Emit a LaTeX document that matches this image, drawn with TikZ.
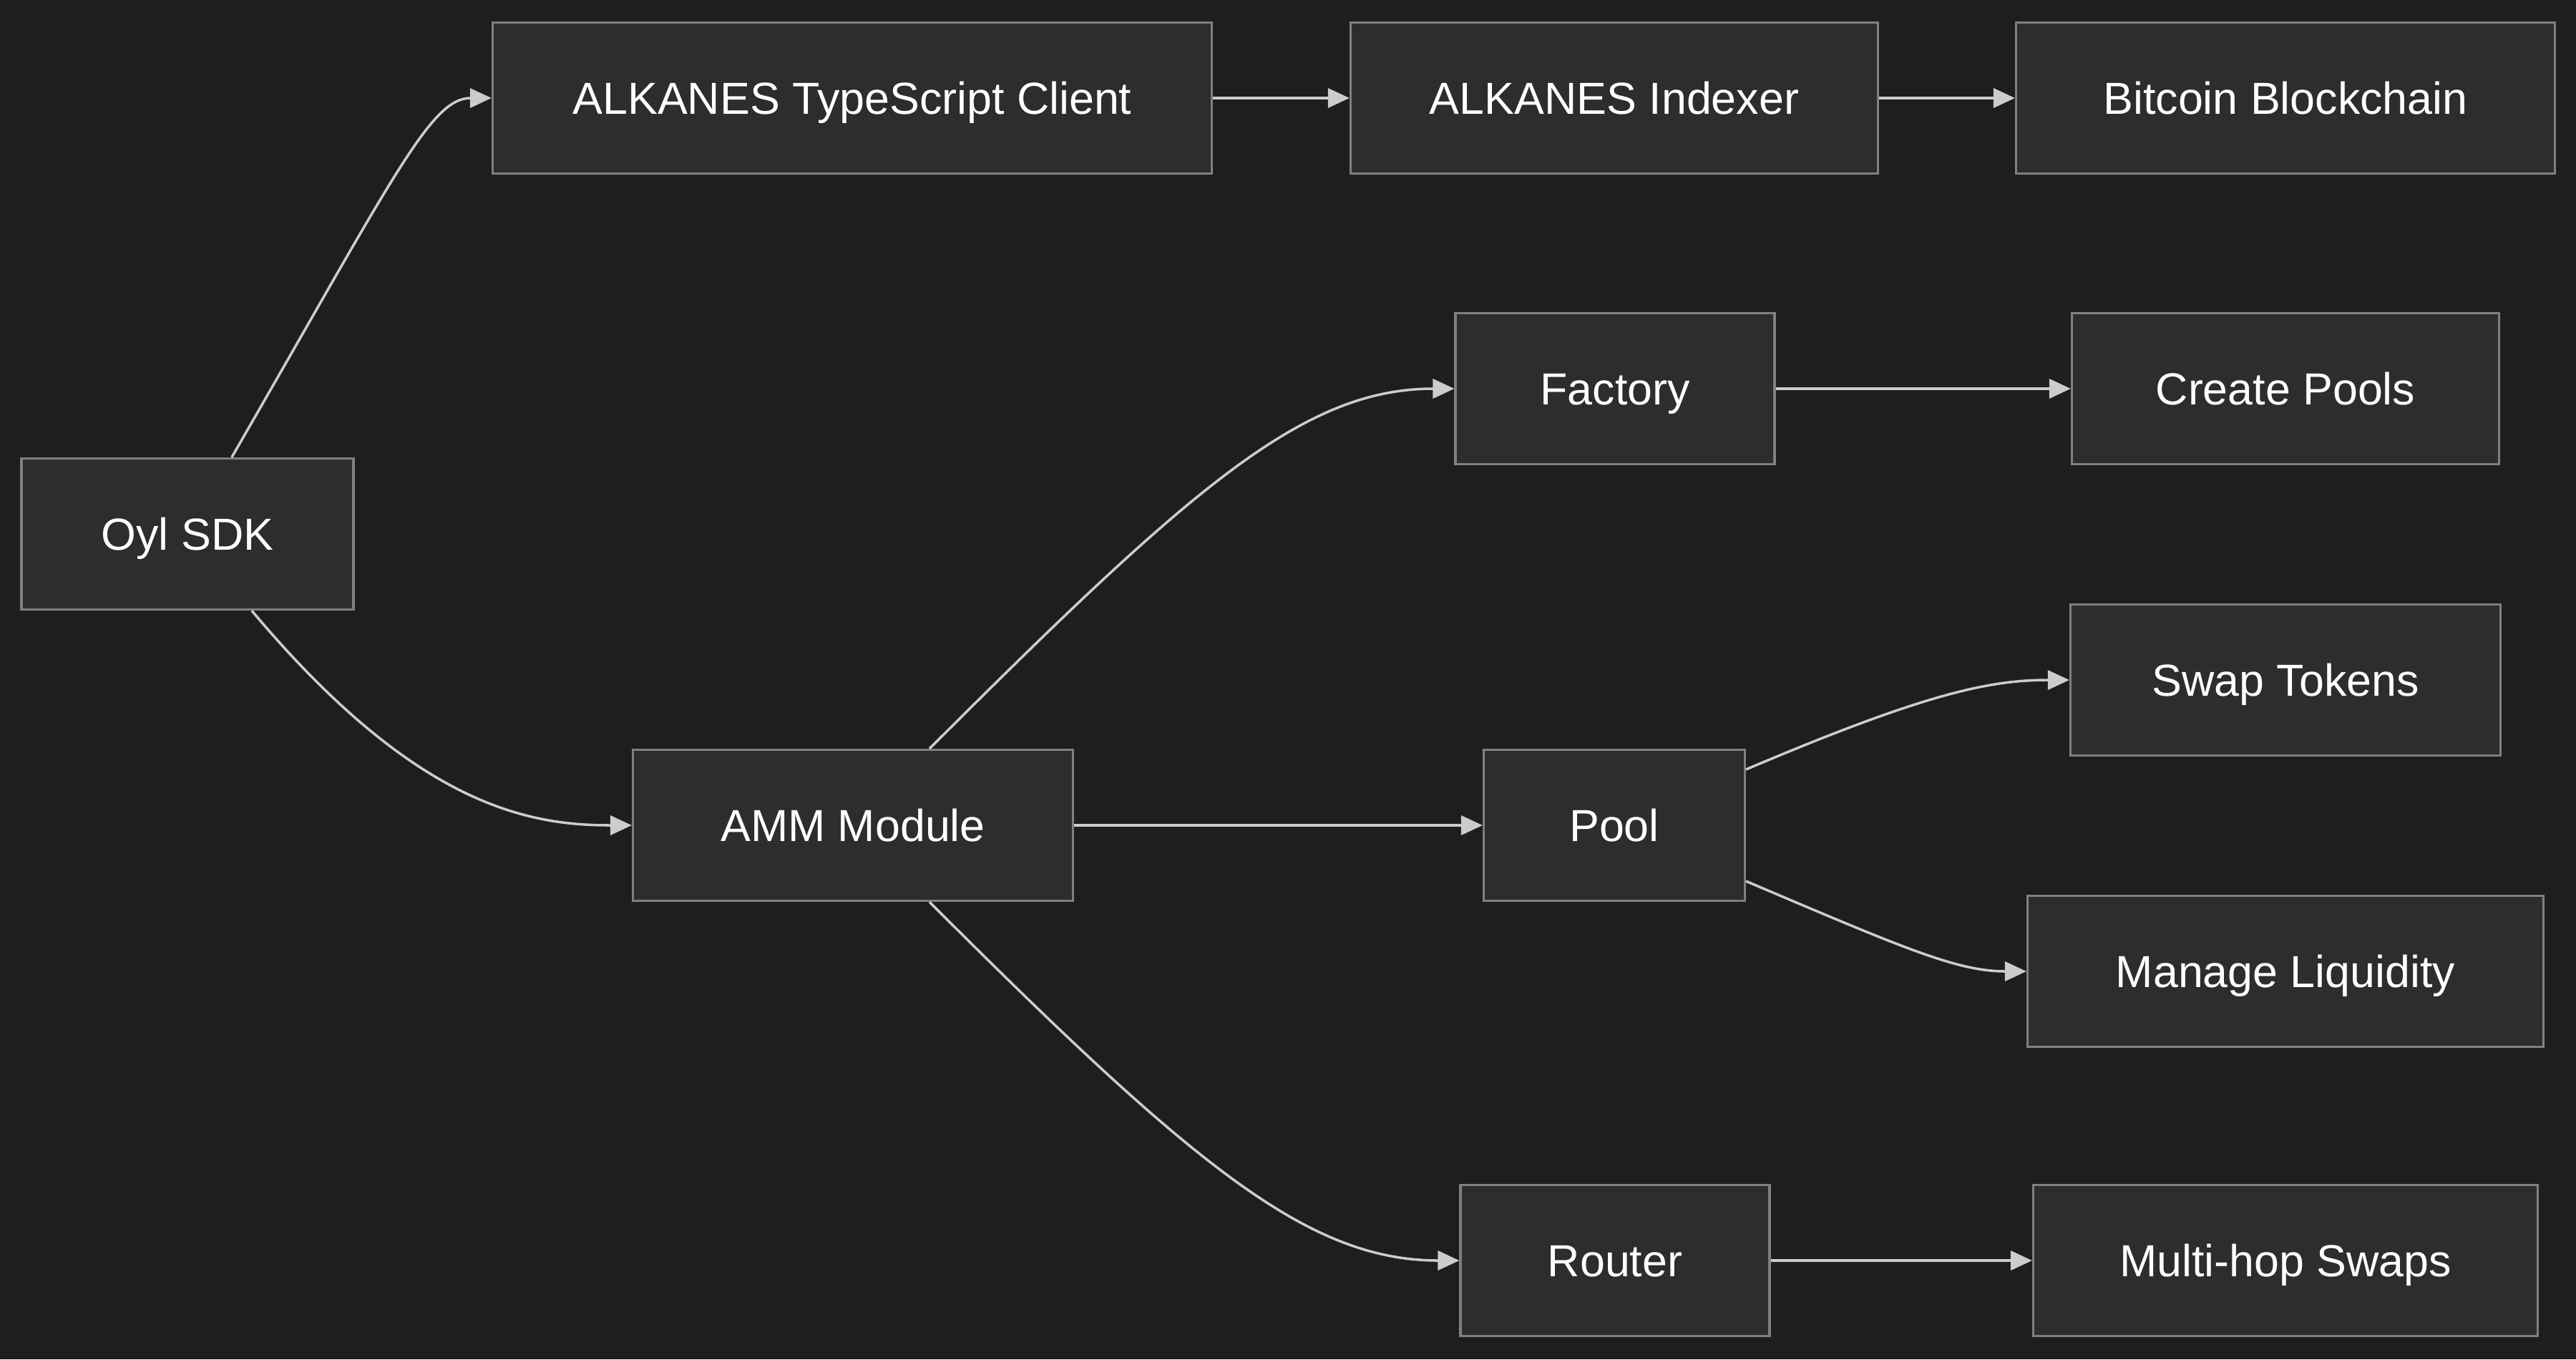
\documentclass[tikz,border=0pt]{standalone}
\usepackage{fontspec}
\setmainfont{Liberation Sans}
\usetikzlibrary{arrows.meta}
\usetikzlibrary{positioning}

\definecolor{bgcol}{RGB}{30,30,30}
\definecolor{boxfill}{RGB}{45,45,45}
\definecolor{boxline}{RGB}{128,128,128}
\definecolor{linkcol}{RGB}{204,204,204}

\tikzset{
  module/.style={draw=boxline, fill=boxfill, line width=0.9pt, text=white,
    minimum height=2.11cm, inner sep=0pt, text height=15.8pt, text depth=3pt,
    font=\fontsize{17.85}{21}\selectfont},
  link/.style={draw=linkcol, line width=1pt,
    -{Triangle[length=0.3cm,width=0.27cm]}},
  curvelink/.style={out looseness=1.5, in looseness=0.6},
}

\begin{document}
\begin{tikzpicture}
\fill[bgcol] (0,0) rectangle (36,-18.99);
\useasboundingbox (0,0) rectangle (36,-18.99);

% left column
\node[module, minimum width=4.64cm] (sdk) at (2.62,-7.46) {Oyl SDK};
\node[module, minimum width=6.15cm] (amm) at (11.92,-11.53) {AMM Module};
\node[module, minimum width=10.05cm] (client) at (11.91,-1.37) {ALKANES TypeScript Client};

% middle column
\node[module, minimum width=7.37cm] (indexer) at (22.56,-1.37) {ALKANES Indexer};
\node[module, minimum width=4.46cm] (factory) at (22.57,-5.43) {Factory};
\node[module, minimum width=3.65cm] (pool) at (22.56,-11.53) {Pool};
\node[module, minimum width=4.32cm] (router) at (22.57,-17.61) {Router};

% right column
\node[module, minimum width=7.53cm] (btc) at (31.94,-1.37) {Bitcoin Blockchain};
\node[module, minimum width=5.97cm] (pools) at (31.94,-5.43) {Create Pools};
\node[module, minimum width=6.01cm] (swap) at (31.94,-9.50) {Swap Tokens};
\node[module, minimum width=7.21cm] (liq) at (31.94,-13.57) {Manage Liquidity};
\node[module, minimum width=7.05cm] (hops) at (31.94,-17.61) {Multi-hop Swaps};

\draw[link] (sdk) to[out=60,in=180,curvelink,out looseness=1.9,in looseness=0.35] (client);
\draw[link] (sdk) to[out=-50,in=180,curvelink] (amm);
\draw[link] (client) -- (indexer);
\draw[link] (indexer) -- (btc);
\draw[link] (amm) to[out=45,in=180,curvelink] (factory);
\draw[link] (amm) -- (pool);
\draw[link] (amm) to[out=-45,in=180,curvelink] (router);
\draw[link] (factory) -- (pools);
\draw[link] (pool) to[out=23,in=180,curvelink] (swap);
\draw[link] (pool) to[out=-23,in=180,curvelink] (liq);
\draw[link] (router) -- (hops);
\end{tikzpicture}
\end{document}
